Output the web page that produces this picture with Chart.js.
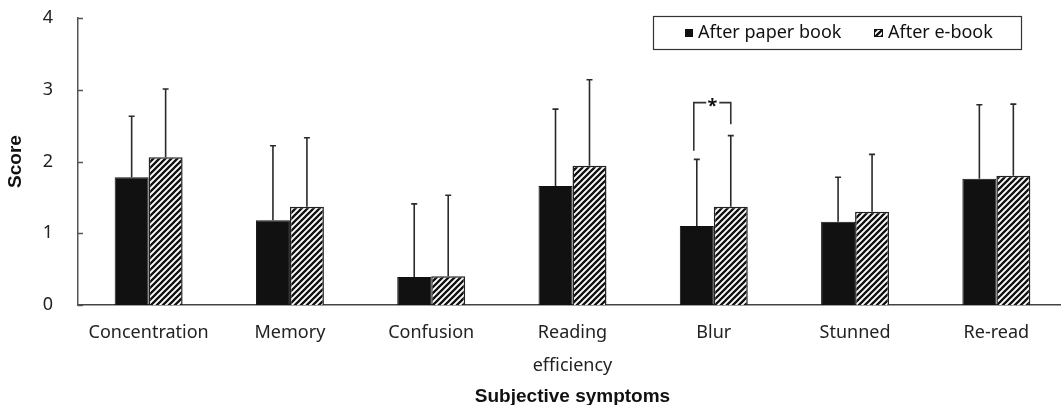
<!DOCTYPE html>
<html lang="en">
<head>
<meta charset="UTF-8">
<title>Subjective symptoms</title>
<script src="https://cdn.jsdelivr.net/npm/chart.js"></script>
<style>
  html, body { margin: 0; padding: 0; overflow: hidden; background: #fff; }
  canvas { display: block; }
</style>
</head>
<body>
<canvas id="myChart" width="1067" height="405"></canvas>
<script>
// data
const categories = ['Concentration', 'Memory', 'Confusion', ['Reading', 'efficiency'], 'Blur', 'Stunned', 'Re-read'];
const seriesNames = ['After paper book', 'After e-book'];
const paperBook = [1.78, 1.18, 0.39, 1.66, 1.10, 1.16, 1.76];
const eBook = [2.06, 1.37, 0.40, 1.94, 1.37, 1.30, 1.80];
const paperBookSd = [0.85, 1.04, 1.02, 1.07, 0.93, 0.62, 1.03];
const eBookSd = [0.95, 0.96, 1.13, 1.20, 0.99, 0.80, 1.00];
const yTicks = [0, 1, 2, 3, 4];
const sigCategory = 4; // Blur
const sigLeft = 2.15;
const sigRight = 2.52;
const sigTop = 2.82;
const sigMark = '*';

const FONT = "'Noto Sans', sans-serif";

function makeHatch() {
  const c = document.createElement('canvas');
  c.width = 6; c.height = 6;
  const g = c.getContext('2d');
  g.fillStyle = '#fff';
  g.fillRect(0, 0, 6, 6);
  g.strokeStyle = '#111';
  g.lineWidth = 2.3;
  g.beginPath();
  g.moveTo(0, 6); g.lineTo(6, 0);
  g.moveTo(-1, 1); g.lineTo(1, -1);
  g.moveTo(5, 7); g.lineTo(7, 5);
  g.stroke();
  return g.createPattern(c, 'repeat');
}
const hatch = makeHatch();

const errorBars = {
  id: 'errorBars',
  afterDatasetsDraw(chart) {
    const { ctx } = chart;
    const y = chart.scales.y;
    const sds = [paperBookSd, eBookSd];
    ctx.save();
    ctx.strokeStyle = '#2a2a2a';
    ctx.lineWidth = 1.6;
    chart.data.datasets.forEach((ds, i) => {
      chart.getDatasetMeta(i).data.forEach((bar, j) => {
        const top = y.getPixelForValue(ds.data[j] + sds[i][j]);
        ctx.beginPath();
        ctx.moveTo(bar.x, bar.y);
        ctx.lineTo(bar.x, top);
        ctx.moveTo(bar.x - 3, top);
        ctx.lineTo(bar.x + 3, top);
        ctx.stroke();
      });
    });
    ctx.restore();
  }
};

const extras = {
  id: 'extras',
  afterDraw(chart) {
    const { ctx, chartArea } = chart;
    const y = chart.scales.y;
    ctx.save();
    // inward ticks on the y axis
    ctx.strokeStyle = '#555';
    ctx.lineWidth = 1.5;
    yTicks.forEach(t => {
      const py = Math.round(y.getPixelForValue(t)) + 0.5;
      ctx.beginPath();
      ctx.moveTo(chartArea.left, py);
      ctx.lineTo(chartArea.left + 5, py);
      ctx.stroke();
    });

    // significance bracket
    const b0 = chart.getDatasetMeta(0).data[sigCategory];
    const b1 = chart.getDatasetMeta(1).data[sigCategory];
    const lx = b0.x - 3, rx = b1.x;
    const ty = y.getPixelForValue(sigTop);
    const mx = (lx + rx) / 2;
    ctx.strokeStyle = '#333';
    ctx.lineWidth = 1.6;
    ctx.beginPath();
    ctx.moveTo(lx, y.getPixelForValue(sigLeft));
    ctx.lineTo(lx, ty);
    ctx.lineTo(mx - 6, ty);
    ctx.moveTo(mx + 7, ty);
    ctx.lineTo(rx, ty);
    ctx.lineTo(rx, y.getPixelForValue(sigRight));
    ctx.stroke();
    ctx.fillStyle = '#111';
    ctx.font = "bold 18px " + FONT;
    ctx.textAlign = 'center';
    ctx.textBaseline = 'middle';
    ctx.fillText(sigMark, mx, ty + 4);

    // legend box
    ctx.strokeStyle = '#333';
    ctx.lineWidth = 1.2;
    ctx.strokeRect(653.5, 16.5, 368, 33);
    ctx.font = "18px " + FONT;
    ctx.textAlign = 'left';
    ctx.fillStyle = '#111';
    ctx.fillRect(685, 29, 8, 8);
    ctx.fillText(seriesNames[0], 698, 33);
    ctx.fillStyle = hatch;
    ctx.fillRect(874, 29, 9, 8);
    ctx.strokeStyle = '#111';
    ctx.lineWidth = 1;
    ctx.strokeRect(874.5, 29.5, 8, 7);
    ctx.fillStyle = '#111';
    ctx.fillText(seriesNames[1], 888, 33);
    ctx.restore();
  }
};

const config = {
  type: 'bar',
  data: {
    labels: categories,
    datasets: [
      {
        label: seriesNames[0],
        data: paperBook,
        backgroundColor: '#111',
        borderColor: '#111',
        borderWidth: 1
      },
      {
        label: seriesNames[1],
        data: eBook,
        backgroundColor: hatch,
        borderColor: '#222',
        borderWidth: 1.5
      }
    ]
  },
  options: {
    responsive: false,
    animation: false,
    devicePixelRatio: 1,
    layout: { autoPadding: false, padding: { top: 18, left: 0, right: 0, bottom: 0 } },
    datasets: { bar: { categoryPercentage: 0.481, barPercentage: 1 } },
    plugins: {
      legend: { display: false },
      tooltip: { enabled: false }
    },
    scales: {
      x: {
        afterFit(scale) { scale.height = 100; scale.paddingLeft = 0; scale.paddingRight = 0; },
        grid: { display: false },
        border: { display: true, color: '#444', width: 1.5 },
        ticks: {
          color: '#222',
          font: { family: FONT, size: 18, lineHeight: 1.8 },
          padding: 4,
          maxRotation: 0,
          autoSkip: false
        },
        title: {
          display: true,
          text: 'Subjective symptoms',
          color: '#111',
          font: { family: "'Liberation Sans', Arial, sans-serif", size: 19, weight: 'bold', lineHeight: 1 },
          padding: { top: 0, bottom: -1 }
        }
      },
      y: {
        min: 0,
        max: 4,
        afterFit(scale) { scale.width = 78; scale.paddingTop = 0; scale.paddingBottom = 0; },
        afterBuildTicks(scale) { scale.ticks = yTicks.map(v => ({ value: v })); },
        grid: { display: false },
        border: { display: true, color: '#555', width: 1.5 },
        ticks: {
          color: '#222',
          font: { family: FONT, size: 18 },
          padding: 17
        },
        title: {
          display: true,
          text: 'Score',
          color: '#111',
          font: { family: "'Liberation Sans', Arial, sans-serif", size: 19, weight: 'bold', lineHeight: 1 },
          padding: { top: 6, bottom: 0 }
        }
      }
    }
  },
  plugins: [errorBars, extras]
};

const myChart = new Chart(document.getElementById('myChart'), config);
</script>
</body>
</html>
